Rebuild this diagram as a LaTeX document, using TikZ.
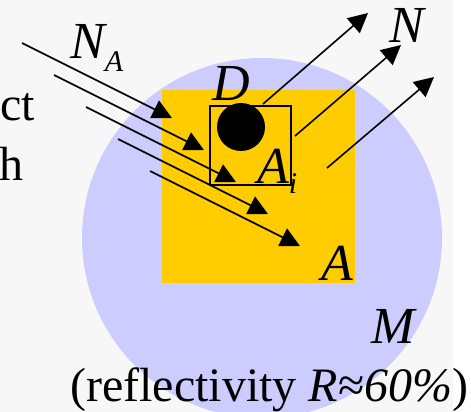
\documentclass[tikz,border=0pt]{standalone}
\usepackage{fontspec}
\setmainfont{Liberation Serif}
\usetikzlibrary{arrows.meta}
\definecolor{mirror}{HTML}{CCCCFF}
\definecolor{field}{HTML}{FFCC00}
\definecolor{panel}{HTML}{F7F7F7}
\tikzset{
  ray/.style={line width=1.6pt,-{Triangle[length=19.5pt,width=19.5pt]}},
  lbl/.style={inner sep=0pt,font=\rmfamily\fontsize{52}{56}\selectfont\itshape},
  txt/.style={inner sep=0pt,font=\rmfamily\fontsize{48}{52}\selectfont}
}
\newcommand{\subsz}{\fontsize{30}{30}\selectfont}

\begin{document}
\begin{tikzpicture}[x=1pt,y=-1pt]
  \useasboundingbox (0,0) rectangle (471,412);
  \fill[panel] (0,0) rectangle (453,412);
  \fill[mirror] (262,238) circle (180);
  \fill[field] (162,90) rectangle (355,283);
  \draw[line width=1.5pt] (210,106) rectangle (291,185);
  \fill (241,127) circle (24);
  \foreach \k in {0,...,4} {
    \coordinate (in\k s) at (22+32*\k,43+32*\k);
    \coordinate (in\k e) at (172+32*\k,118+32*\k);
    \draw[ray] (in\k s) -- (in\k e);
  }
  \foreach \k in {0,1,2} {
    \coordinate (out\k s) at (263+32*\k,104+32*\k);
    \coordinate (out\k e) at (368+33*\k,13+32*\k);
    \draw[ray] (out\k s) -- (out\k e);
  }
  \node[lbl,anchor=base west] (D) at (212,100) {D};
  \node[lbl,anchor=base west] (N) at (389,43) {N};
  \node[lbl,anchor=base west] (NA) at (70,59) {N\raisebox{-13pt}{\subsz A}};
  \node[lbl,anchor=base west] (Ai) at (257,183) {A\raisebox{-10pt}{\subsz i}};
  \node[lbl,anchor=base west] (A) at (321,280) {A};
  \node[lbl,anchor=base west] (M) at (371,343) {M};
  \node[txt,anchor=base east] (ct) at (35,120) {ct};
  \node[txt,anchor=base east] (h) at (24,180) {h};
  \node[txt,anchor=base west] (refl) at (70,401) {(reflectivity \textit{R}≈\textit{60\%})};
\end{tikzpicture}
\end{document}
